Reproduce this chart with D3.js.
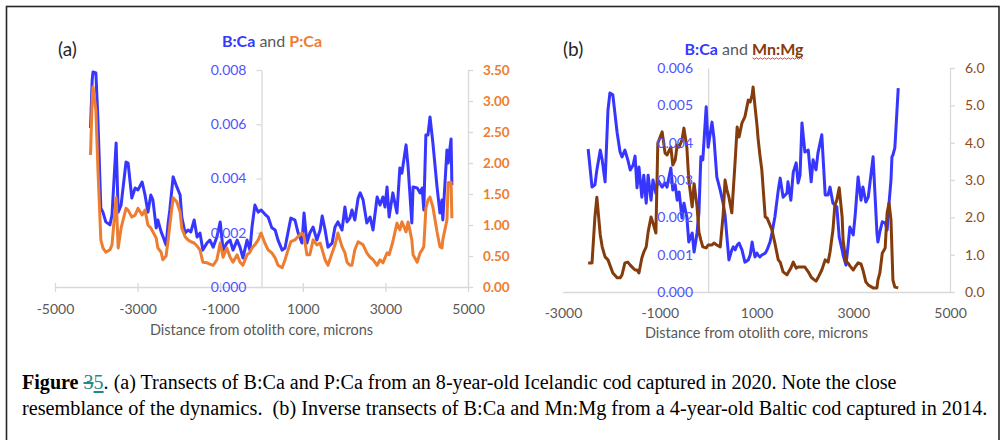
<!DOCTYPE html>
<html>
<head>
<meta charset="utf-8">
<script src="https://cdn.jsdelivr.net/npm/d3@7"></script>
<style>
  body { margin: 0; background: #fff; }
</style>
</head>
<body>
<div id="chart"></div>
<script>
// ---- (a) 8-year-old Icelandic cod: distance from core (microns), B:Ca, P:Ca ----
const distA = [-4140,-4100,-4080,-4010,-3960,-3890,-3840,-3770,-3670,-3620,
  -3520,-3470,-3400,-3280,-3230,-3140,-3060,-2990,-2890,-2820,
  -2750,-2680,-2630,-2550,-2510,-2430,-2390,-2310,-2260,-2220,
  -2140,-2050,-1970,-1930,-1850,-1780,-1710,-1630,-1560,-1490,
  -1420,-1320,-1250,-1170,-1080,-1000,-930,-840,-760,-690,
  -590,-520,-450,-350,-280,-230,-160,-80,-10,80,
  160,250,330,400,500,570,620,710,810,880,
  980,1030,1100,1170,1250,1340,1420,1470,1540,1610,
  1710,1780,1850,1950,2020,2070,2140,2190,2260,2340,
  2390,2460,2550,2630,2700,2800,2870,2940,2990,3040,
  3090,3180,3280,3350,3400,3500,3550,3640,3670,3770,
  3840,3890,3930,3980,4030,4080,4150,4250,4320,4370,
  4390,4490,4520,4590,4610];
const bcaA = [0.00586,0.00763,0.00793,0.00789,0.00616,0.00291,0.00276,0.00240,0.00229,0.00265,
  0.00531,0.00276,0.00302,0.00461,0.00457,0.00328,0.00365,0.00358,0.00387,0.00339,
  0.00276,0.00339,0.00321,0.00218,0.00247,0.00203,0.00188,0.00155,0.00236,0.00284,
  0.00406,0.00369,0.00339,0.00258,0.00199,0.00210,0.00203,0.00247,0.00184,0.00199,
  0.00136,0.00162,0.00173,0.00147,0.00184,0.00240,0.00136,0.00162,0.00173,0.00136,
  0.00173,0.00147,0.00107,0.00173,0.00136,0.00221,0.00302,0.00276,0.00284,0.00269,
  0.00258,0.00218,0.00210,0.00173,0.00136,0.00144,0.00184,0.00254,0.00247,0.00203,
  0.00162,0.00273,0.00162,0.00199,0.00221,0.00173,0.00210,0.00262,0.00210,0.00147,
  0.00162,0.00221,0.00240,0.00210,0.00295,0.00240,0.00254,0.00284,0.00247,0.00328,
  0.00347,0.00321,0.00236,0.00258,0.00210,0.00332,0.00302,0.00332,0.00295,0.00369,
  0.00258,0.00347,0.00273,0.00439,0.00420,0.00524,0.00442,0.00236,0.00369,0.00365,
  0.00347,0.00365,0.00284,0.00560,0.00560,0.00627,0.00531,0.00369,0.00273,0.00321,
  0.00247,0.00505,0.00457,0.00546,0.00376];
const pcaA = [2.13,3.02,3.23,2.85,1.89,0.76,0.63,0.56,0.60,0.68,
  1.44,0.63,0.95,1.27,1.24,1.13,1.16,1.27,1.16,1.24,
  1.00,0.95,0.89,0.79,0.63,0.56,0.44,0.50,0.76,1.00,
  1.44,1.37,1.21,0.95,0.81,0.76,0.73,0.71,0.66,0.60,
  0.40,0.39,0.37,0.35,0.44,0.71,0.48,0.63,0.48,0.40,
  0.52,0.40,0.35,0.52,0.56,0.63,0.68,0.76,0.87,0.71,
  0.60,0.55,0.47,0.35,0.31,0.44,0.55,0.73,0.76,0.81,
  0.87,0.81,0.52,0.52,0.76,0.68,0.71,0.60,0.44,0.35,
  0.55,0.68,0.87,0.65,0.55,0.40,0.35,0.35,0.60,0.73,
  0.71,0.68,0.55,0.48,0.44,0.35,0.44,0.39,0.47,0.55,
  0.52,0.73,1.03,0.92,1.05,0.89,1.05,0.76,0.52,0.40,
  0.55,0.60,0.65,1.27,1.40,1.45,1.29,0.89,0.65,0.63,
  0.76,1.08,1.68,1.69,1.11];

// ---- (b) 4-year-old Baltic cod: distance, B:Ca, Mn:Mg ----
const distB = [-2480,-2400,-2340,-2300,-2230,-2190,-2130,-2070,-2030,-1970,
  -1880,-1820,-1780,-1720,-1660,-1610,-1550,-1510,-1470,-1430,
  -1370,-1330,-1280,-1240,-1180,-1140,-1080,-1040,-950,-890,
  -850,-770,-730,-680,-640,-600,-540,-500,-440,-400,
  -330,-290,-230,-190,-150,-110,-40,0,80,120,
  180,250,310,350,390,430,490,520,560,600,
  640,700,760,830,870,910,930,970,1010,1030,
  1070,1110,1180,1220,1280,1320,1380,1450,1490,1550,
  1630,1650,1710,1760,1820,1860,1900,1940,2000,2070,
  2130,2170,2230,2270,2350,2420,2480,2520,2580,2620,
  2660,2710,2770,2790,2850,2890,2930,3000,3040,3100,
  3160,3200,3260,3310,3410,3490,3510,3550,3600,3660,
  3700,3740,3780,3800,3820,3860,3930];
const bcaB = [0.00383,0.00281,0.00287,0.00327,0.00380,0.00354,0.00295,0.00488,0.00533,0.00528,
  0.00426,0.00375,0.00362,0.00380,0.00354,0.00327,0.00340,0.00364,0.00279,0.00335,
  0.00254,0.00313,0.00238,0.00313,0.00246,0.00300,0.00265,0.00300,0.00281,0.00292,
  0.00281,0.00332,0.00273,0.00287,0.00246,0.00268,0.00198,0.00238,0.00201,0.00134,
  0.00158,0.00107,0.00158,0.00212,0.00362,0.00354,0.00496,0.00388,0.00455,0.00413,
  0.00308,0.00273,0.00238,0.00206,0.00145,0.00086,0.00113,0.00121,0.00113,0.00126,
  0.00131,0.00113,0.00080,0.00086,0.00099,0.00134,0.00118,0.00094,0.00104,0.00099,
  0.00094,0.00099,0.00104,0.00113,0.00134,0.00158,0.00201,0.00273,0.00305,0.00254,
  0.00265,0.00295,0.00246,0.00321,0.00346,0.00292,0.00313,0.00453,0.00375,0.00380,
  0.00295,0.00354,0.00327,0.00372,0.00421,0.00260,0.00260,0.00281,0.00238,0.00233,
  0.00228,0.00147,0.00113,0.00099,0.00072,0.00121,0.00174,0.00153,0.00206,0.00308,
  0.00246,0.00281,0.00241,0.00254,0.00362,0.00158,0.00134,0.00161,0.00188,0.00185,
  0.00166,0.00238,0.00300,0.00362,0.00367,0.00386,0.00546];
const mnmgB = [0.78,0.78,2.01,2.54,1.53,1.21,0.94,0.86,0.72,0.51,
  0.38,0.38,0.46,0.78,0.80,0.72,0.64,0.59,0.59,0.51,
  0.91,1.07,1.21,1.61,2.01,1.85,1.58,3.99,4.29,3.72,
  3.67,3.88,3.40,3.54,3.94,3.88,4.07,4.39,3.88,3.00,
  2.28,2.90,2.30,1.60,1.39,1.21,1.18,1.26,1.26,1.31,
  1.26,1.21,2.06,3.00,2.73,2.54,2.12,2.73,3.54,4.42,
  4.15,4.53,4.69,5.14,5.09,5.28,5.49,4.96,4.47,4.15,
  3.67,3.27,2.01,1.98,1.79,1.66,1.31,0.86,0.80,0.54,
  0.46,0.51,0.64,0.80,0.64,0.67,0.67,0.67,0.67,0.54,
  0.40,0.35,0.29,0.38,0.59,0.86,0.80,1.07,1.66,2.33,
  2.46,2.79,2.01,1.39,0.80,0.78,0.70,0.59,0.67,0.78,
  0.75,0.59,0.27,0.19,0.11,0.11,0.32,0.51,1.04,1.18,
  2.12,2.38,1.93,1.13,0.32,0.13,0.11];

// tick values
const xTicksA = [-5000, -3000, -1000, 1000, 3000, 5000];
const xTicksB = [-3000, -1000, 1000, 3000, 5000];
const bcaTicksA = [0, 0.002, 0.004, 0.006, 0.008];
const pcaTicksA = [0, 0.5, 1, 1.5, 2, 2.5, 3, 3.5];
const bcaTicksB = [0, 0.001, 0.002, 0.003, 0.004, 0.005, 0.006];
const mnmgTicksB = [0, 1, 2, 3, 4, 5, 6];

const FONT = "Lato, 'Open Sans', sans-serif";
const BLUE = "#3636ff", BLUE_LBL = "#5252ff";
const ORANGE = "#ed7d31", BROWN = "#843c0c", BROWN_LBL = "#8e4b1f";
const GREY_TXT = "#595959", AXIS_GREY = "#d9d9d9";

const svg = d3.select("#chart").append("svg")
    .attr("width", 1005)
    .attr("height", 440);

// outer frame
svg.append("rect")
   .attr("x", 6.5).attr("y", 6.5)
   .attr("width", 992.5).attr("height", 460)
   .attr("fill", "none")
   .attr("stroke", "#262626")
   .attr("stroke-width", 1.6);

function drawPanel(p) {
    const x = d3.scaleLinear().domain(p.xDomain).range(p.xRange);
    const yL = d3.scaleLinear().domain(p.yLDomain).range(p.yRange);
    const yR = d3.scaleLinear().domain(p.yRDomain).range(p.yRange);

    // axis lines under the series, labels over them
    const under = svg.append("g"), mid = svg.append("g"), over = svg.append("g");

    function addAxis(axis, tx, ty, style) {
        const t = `translate(${tx},${ty})`;
        const a = under.append("g").attr("transform", t).call(axis);
        a.selectAll("text").remove();
        a.selectAll("path, line").attr("stroke", AXIS_GREY).attr("stroke-width", 1.3);
        const b = over.append("g").attr("transform", t).call(axis);
        b.selectAll("path, line").remove();
        b.selectAll("text")
         .attr("font-family", FONT)
         .attr("font-size", style.size)
         .attr("font-weight", style.weight || "normal")
         .attr("fill", style.color);
        return a;
    }

    const baseY = p.yRange[0];
    const xa = addAxis(d3.axisBottom(x).tickValues(p.xTicks).tickFormat(d => String(d))
                  .tickSize(p.xTickLen).tickSizeOuter(0).tickPadding(p.xPad),
                  0, baseY, { size: 14, color: GREY_TXT });
    xa.selectAll(".tick line").attr("y1", -p.xTickLen + 1);

    addAxis(d3.axisLeft(yL).tickValues(p.lTicks).tickFormat(d3.format(".3f"))
               .tickSize(p.lTickLen).tickSizeOuter(0).tickPadding(p.lPad),
            x(0), 0, { size: 14, color: BLUE_LBL });

    addAxis(d3.axisRight(yR).tickValues(p.rTicks).tickFormat(d3.format(p.rFormat))
               .tickSize(5).tickSizeOuter(0).tickPadding(p.rPad),
            x(p.xDomain[1]), 0, p.rStyle);

    const lineL = d3.line().x(d => x(d[0])).y(d => yL(d[1]));
    const lineR = d3.line().x(d => x(d[0])).y(d => yR(d[1]));

    mid.append("path")
       .datum(d3.zip(p.dist, p.left))
       .attr("d", lineL)
       .attr("fill", "none")
       .attr("stroke", BLUE)
       .attr("stroke-width", 3)
       .attr("stroke-linejoin", "round");

    mid.append("path")
       .datum(d3.zip(p.dist, p.right))
       .attr("d", lineR)
       .attr("fill", "none")
       .attr("stroke", p.rColor)
       .attr("stroke-width", 3)
       .attr("stroke-linejoin", "round");

    // x axis title
    over.append("text")
        .attr("x", (p.xRange[0] + p.xRange[1]) / 2)
        .attr("y", p.xTitleY)
        .attr("text-anchor", "middle")
        .attr("font-family", FONT)
        .attr("font-size", 14.5)
        .attr("fill", GREY_TXT)
        .text("Distance from otolith core, microns");

    // panel letter
    over.append("text")
        .attr("x", p.letterX)
        .attr("y", 56)
        .attr("font-family", FONT)
        .attr("font-size", 19)
        .attr("fill", "#262626")
        .text(p.letter);

    // chart title
    const title = over.append("text")
        .attr("x", p.titleX)
        .attr("y", p.titleY)
        .attr("text-anchor", "middle")
        .attr("font-family", FONT)
        .attr("font-size", 16)
        .style("white-space", "pre");
    title.append("tspan").attr("font-weight", "bold").attr("fill", BLUE).text("B:Ca");
    title.append("tspan").attr("fill", GREY_TXT).text(" and ");
    const second = title.append("tspan").attr("font-weight", "bold").attr("fill", p.rColor).text(p.rName);

    if (p.squiggle) {
        // spell-check underline under the second element name
        const box = title.node().getBBox();
        const w = second.node().getComputedTextLength();
        const x1 = box.x + box.width, x0 = x1 - w;
        const pts = d3.range(x0, x1, 2).map((v, i) => [v, p.titleY + 3 + (i % 2 ? 1.2 : -0.2)]);
        over.append("path")
            .attr("d", d3.line()(pts))
            .attr("fill", "none")
            .attr("stroke", "#e0302a")
            .attr("stroke-width", 0.9);
    }
}

drawPanel({
    letter: "(a)", letterX: 58,
    titleX: 272, titleY: 47, rName: "P:Ca", rColor: ORANGE,
    dist: distA, left: bcaA, right: pcaA,
    xDomain: [-5000, 5000], xRange: [55, 468], xTicks: xTicksA, xTickLen: 5, xPad: 12,
    yLDomain: [0, 0.008], yRDomain: [0, 3.5], yRange: [287, 70],
    lTicks: bcaTicksA, lTickLen: 5, lPad: 10,
    rTicks: pcaTicksA, rFormat: ".2f", rPad: 10,
    rStyle: { size: 13.5, weight: "bold", color: ORANGE },
    xTitleY: 335
});

drawPanel({
    letter: "(b)", letterX: 563,
    titleX: 744, titleY: 55, rName: "Mn:Mg", rColor: BROWN, squiggle: true,
    dist: distB, left: bcaB, right: mnmgB,
    xDomain: [-3000, 5000], xRange: [563, 950], xTicks: xTicksB, xTickLen: 0, xPad: 16,
    yLDomain: [0, 0.006], yRDomain: [0, 6], yRange: [292, 68],
    lTicks: bcaTicksB, lTickLen: 0, lPad: 15,
    rTicks: mnmgTicksB, rFormat: ".1f", rPad: 10,
    rStyle: { size: 14, color: BROWN_LBL },
    xTitleY: 338
});

// ---- caption ----
const CAP_FONT = "'Liberation Serif', 'Times New Roman', serif";
const TEAL = "#1f8a8a";

function captionLine(y, x0, x1, build) {
    const t = svg.append("text")
        .attr("font-family", CAP_FONT)
        .attr("font-size", 20)
        .attr("fill", "#000")
        .style("white-space", "pre");
    build(t);
    const w = t.node().getBBox().width;
    t.attr("transform", `translate(${x0},${y}) scale(${(x1 - x0) / w},1)`);
}

captionLine(389, 22, 897, t => {
    t.append("tspan").attr("font-weight", "bold").text("Figure ");
    t.append("tspan").attr("fill", TEAL).attr("text-decoration", "line-through").text("3");
    t.append("tspan").attr("fill", TEAL).attr("text-decoration", "underline").text("5");
    t.append("tspan").text(". (a) Transects of B:Ca and P:Ca from an 8-year-old Icelandic cod captured in 2020. Note the close");
});

captionLine(415, 22, 988, t => {
    t.append("tspan").text("resemblance of the dynamics.  (b) Inverse transects of B:Ca and Mn:Mg from a 4-year-old Baltic cod captured in 2014.");
});
</script>
</body>
</html>
